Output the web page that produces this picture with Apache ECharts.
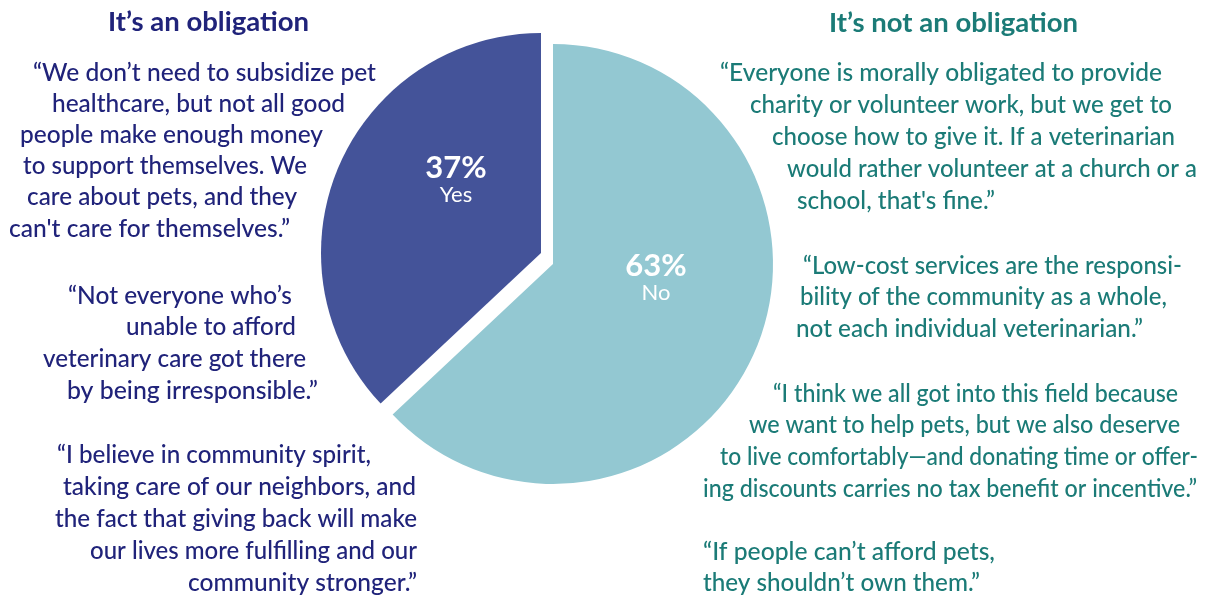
<!DOCTYPE html>
<html>
<head>
<meta charset="utf-8">
<script src="https://cdn.jsdelivr.net/npm/echarts@6/dist/echarts.min.js"></script>
<style>
  html, body { margin: 0; padding: 0; background: #ffffff; }
  #chart { width: 1215px; height: 595px; }
</style>
</head>
<body>
<div id="chart"></div>
<script>
// Survey answer: is providing low-cost care an obligation?
const categories = ['Yes', 'No'];
const shares = [37, 63];

const headingYes = 'It\u2019s an obligation';
const headingNo = 'It\u2019s not an obligation';

// Quotes, one entry per printed line
const quotesYes = [
  '\u201CWe don\u2019t need to subsidize pet',
  'healthcare, but not all good',
  'people make enough money',
  'to support themselves. We',
  'care about pets, and they',
  'can\'t care for themselves.\u201D',
  '\u201CNot everyone who\u2019s',
  'unable to afford',
  'veterinary care got there',
  'by being irresponsible.\u201D',
  '\u201CI believe in community spirit,',
  'taking care of our neighbors, and',
  'the fact that giving back will make',
  'our lives more fulfilling and our',
  'community stronger.\u201D'
];
const quotesNo = [
  '\u201CEveryone is morally obligated to provide',
  'charity or volunteer work, but we get to',
  'choose how to give it. If a veterinarian',
  'would rather volunteer at a church or a',
  'school, that\'s fine.\u201D',
  '\u201CLow-cost services are the responsi-',
  'bility of the community as a whole,',
  'not each individual veterinarian.\u201D',
  '\u201CI think we all got into this field because',
  'we want to help pets, but we also deserve',
  'to live comfortably\u2014and donating time or offer-',
  'ing discounts carries no tax benefit or incentive.\u201D',
  '\u201CIf people can\u2019t afford pets,',
  'they shouldn\u2019t own them.\u201D'
];

// Layout: [left, right, middle-y] of each printed line
const boxYes = [
  [33, 376, 73], [52, 345, 104], [20, 323, 135], [23, 307, 166], [27, 297, 197], [9, 290, 229],
  [68, 292, 296], [126, 296, 327], [43, 306, 359], [67, 318, 391],
  [57, 371, 455], [63, 416, 487], [55, 417, 519], [90, 417, 551], [188, 417, 583]
];
const boxNo = [
  [720, 1162, 73], [750, 1172, 105], [772, 1175, 137], [787, 1197, 169], [797, 995, 201],
  [803, 1182, 266], [800, 1167, 297], [796, 1143, 329],
  [773, 1178, 394], [749, 1180, 425], [720, 1198, 457], [703, 1197, 489],
  [703, 995, 552], [703, 980, 583]
];
const boxHeadYes = [108, 309, 22];
const boxHeadNo = [829, 1078, 23];

const NAVY = '#20237a';
const TEAL = '#1b7b77';
const SLICE_YES = '#445399';
const SLICE_NO = '#93c8d2';
const FONT = 'Lato, "Noto Sans", sans-serif';
const BODY_FONT = '500 24px ' + FONT;
const HEAD_FONT = 'bold 27px ' + FONT;

const measureCtx = document.createElement('canvas').getContext('2d');
function textWidth(text, font) {
  measureCtx.font = font;
  return measureCtx.measureText(text).width;
}

// One text element per line, stretched a touch so it spans its box
function lineItem(text, box, color, font) {
  const w = textWidth(text, font);
  const s = w > 0 ? (box[1] - box[0]) / w : 1;
  return {
    type: 'text',
    x: (box[0] + box[1]) / 2,
    y: box[2],
    scaleX: Math.max(0.9, Math.min(1.1, s)),
    silent: true,
    style: { text: text, fill: color, font: font, align: 'center', verticalAlign: 'middle' }
  };
}

const graphics = [
  lineItem(headingYes, boxHeadYes, NAVY, HEAD_FONT),
  lineItem(headingNo, boxHeadNo, TEAL, HEAD_FONT)
]
  .concat(quotesYes.map((t, i) => lineItem(t, boxYes[i], NAVY, BODY_FONT)))
  .concat(quotesNo.map((t, i) => lineItem(t, boxNo[i], TEAL, BODY_FONT)));

const labelRich = {
  pct: { color: '#ffffff', fontFamily: FONT, fontWeight: 'bold', fontSize: 31, lineHeight: 30 },
  cat: { color: '#ffffff', fontFamily: FONT, fontSize: 22, lineHeight: 24 }
};

// Each slice is drawn by its own pie so the "Yes" wedge can sit pulled out
function sliceSeries(visibleIndex, center, labelPos) {
  return {
    type: 'pie',
    center: center,
    radius: [0, 220],
    startAngle: 90,
    clockwise: false,
    silent: true,
    animation: false,
    emphasis: { disabled: true },
    labelLine: { show: false },
    data: categories.map((name, i) => ({
      name: name,
      value: shares[i],
      itemStyle: { color: i === visibleIndex ? (i === 0 ? SLICE_YES : SLICE_NO) : 'rgba(0,0,0,0)' },
      label: {
        show: i === visibleIndex,
        position: 'inside',
        formatter: p => '{pct|' + p.value + '%}\n{cat|' + p.name + '}',
        rich: labelRich
      }
    })),
    labelLayout: () => ({ x: labelPos[0], y: labelPos[1], align: 'center', verticalAlign: 'middle' })
  };
}

const chart = echarts.init(document.getElementById('chart'), null, { renderer: 'canvas' });
chart.setOption({
  backgroundColor: '#ffffff',
  animation: false,
  series: [
    sliceSeries(1, [553, 264], [656, 278]),
    sliceSeries(0, [541, 253], [456, 180])
  ],
  graphic: { elements: graphics }
});
</script>
</body>
</html>
